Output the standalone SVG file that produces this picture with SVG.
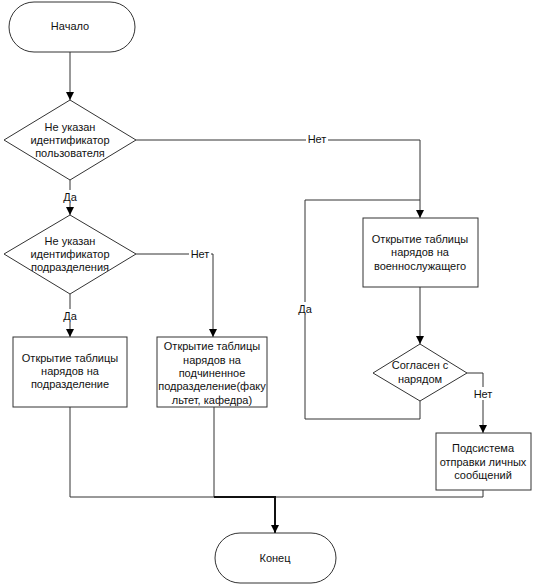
<svg xmlns="http://www.w3.org/2000/svg" width="534" height="585" viewBox="0 0 534 585">
<defs>
<marker id="arr" markerUnits="userSpaceOnUse" markerWidth="8" markerHeight="8" refX="8" refY="4" orient="auto">
<path d="M0,0 L8,4 L0,8 z" fill="#000"/>
</marker>
<style>
.s{fill:#fff;stroke:#333;stroke-width:1}
.t{font-family:"Liberation Sans",Arial,sans-serif;font-size:11px;fill:#111;text-anchor:middle}
.c{fill:none;stroke:#333;stroke-width:1}
.a{marker-end:url(#arr)}
.lb{fill:#fff}
</style>
</defs>
<rect width="534" height="585" fill="#fff"/>
<g id="connectors">
<path class="c a" d="M70 52 V100"/>
<path class="c a" d="M70 180 V215"/>
<path class="c a" d="M136 140 H420 V218"/>
<path class="c a" d="M70 294 V337"/>
<path class="c a" d="M136 254 H213 V337"/>
<path class="c a" d="M420 287 V344"/>
<path class="c" d="M420 401 V419 H305 V200 H420"/>
<path class="c a" d="M467 373 H483 V433"/>
<path class="c" d="M70 407 V497 H214"/>
<path class="c" d="M214 407 V497"/>
<path class="c" d="M483 490 V497 H275"/>
<path class="c a" d="M214 497 H275 V533" style="stroke-width:2;stroke:#111"/>
<rect class="lb" x="61" y="190" width="18" height="13"/>
<text class="t" x="70" y="201">Да</text>
<rect class="lb" x="61" y="309" width="18" height="13"/>
<text class="t" x="70" y="320">Да</text>
<rect class="lb" x="189" y="248" width="22" height="13"/>
<text class="t" x="200" y="258">Нет</text>
<rect class="lb" x="306" y="133" width="22" height="13"/>
<text class="t" x="317" y="143">Нет</text>
<rect class="lb" x="296" y="302" width="18" height="13"/>
<text class="t" x="305" y="313">Да</text>
<rect class="lb" x="472" y="387" width="22" height="13"/>
<text class="t" x="483" y="398">Нет</text>
</g>
<g id="start">
<rect class="s" x="9" y="2" width="126" height="50" rx="25"/>
<text class="t" x="70" y="30">Начало</text>
</g>
<g id="d1">
<polygon class="s" points="70,100 136,140 70,180 4,140"/>
<text class="t" x="70" y="131">Не указан</text>
<text class="t" x="70" y="144">идентификатор</text>
<text class="t" x="70" y="157">пользователя</text>
</g>
<g id="d2">
<polygon class="s" points="70,215 136,254 70,294 4,254"/>
<text class="t" x="70" y="245">Не указан</text>
<text class="t" x="70" y="258">идентификатор</text>
<text class="t" x="70" y="271">подразделения</text>
</g>
<g id="box1">
<rect class="s" x="13" y="337" width="114" height="70"/>
<text class="t" x="70" y="362">Открытие таблицы</text>
<text class="t" x="70" y="375">нарядов на</text>
<text class="t" x="70" y="388">подразделение</text>
</g>
<g id="box2">
<rect class="s" x="157" y="337" width="110" height="70"/>
<text class="t" x="212" y="350">Открытие таблицы</text>
<text class="t" x="212" y="364">нарядов на</text>
<text class="t" x="212" y="377">подчиненное</text>
<text class="t" x="212" y="390">подразделение(факу</text>
<text class="t" x="212" y="404">льтет, кафедра)</text>
</g>
<g id="box3">
<rect class="s" x="363" y="218" width="115" height="69"/>
<text class="t" x="420" y="243">Открытие таблицы</text>
<text class="t" x="420" y="256">нарядов на</text>
<text class="t" x="420" y="270">военнослужащего</text>
</g>
<g id="d3">
<polygon class="s" points="420,344 467,373 420,401 373,373"/>
<text class="t" x="420" y="369">Согласен с</text>
<text class="t" x="420" y="383">нарядом</text>
</g>
<g id="box4">
<rect class="s" x="436" y="433" width="95" height="57"/>
<text class="t" x="483" y="452">Подсистема</text>
<text class="t" x="483" y="466">отправки личных</text>
<text class="t" x="483" y="479">сообщений</text>
</g>
<g id="end">
<rect class="s" x="215" y="533" width="121" height="50" rx="25"/>
<text class="t" x="275" y="562">Конец</text>
</g>
</svg>
